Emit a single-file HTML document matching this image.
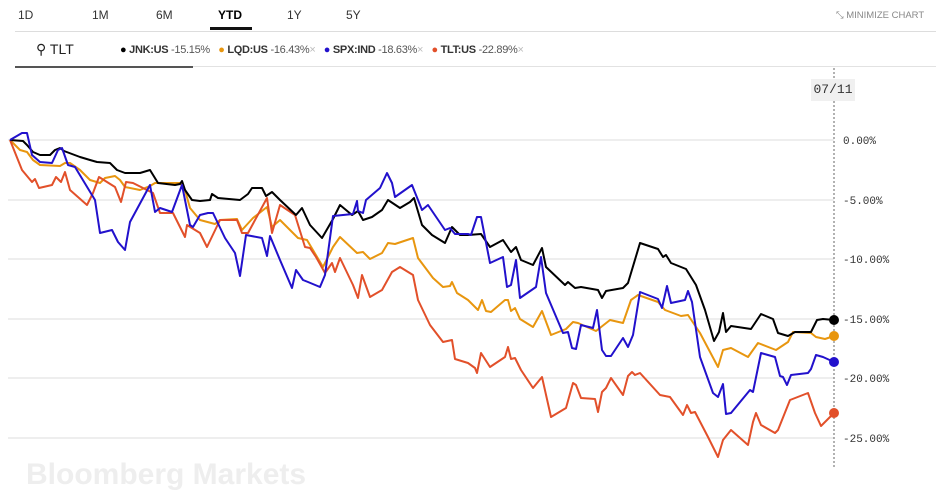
<!DOCTYPE html>
<html><head><meta charset="utf-8"><style>
html,body{margin:0;padding:0;width:936px;height:469px;overflow:hidden;background:#fff;font-family:"Liberation Sans",sans-serif;}
.t{position:absolute;font-size:12px;color:#333;}
</style></head><body>
<div class="t" style="left:18px;top:8px">1D</div>
<div class="t" style="left:92px;top:8px">1M</div>
<div class="t" style="left:156px;top:8px">6M</div>
<div class="t" style="left:218px;top:8px;font-weight:bold;color:#000">YTD</div>
<div style="position:absolute;left:210px;top:27px;width:42px;height:3px;background:#111"></div>
<div class="t" style="left:287px;top:8px">1Y</div>
<div class="t" style="left:346px;top:8px">5Y</div>
<div class="t" style="left:836px;top:10px;font-size:9.5px;color:#888">⤡ MINIMIZE CHART</div>
<div style="position:absolute;left:15px;top:31px;width:921px;height:1px;background:#ddd"></div>
<div class="t" style="left:36px;top:41px;font-size:14px;color:#222">&#9906; TLT</div>
<div style="position:absolute;left:15px;top:66px;width:921px;height:1px;background:#e2e2e2"></div>
<div style="position:absolute;left:15px;top:66px;width:178px;height:2px;background:#555"></div>
<div class="t" style="left:120px;top:44px;font-size:11px;letter-spacing:-0.3px;white-space:nowrap">
<span style="color:#000">●</span> <b>JNK:US</b> <span style="color:#555">-15.15%</span>&nbsp;&nbsp;
<span style="color:#e8960f">●</span> <b>LQD:US</b> <span style="color:#555">-16.43%</span><span style="color:#bbb">×</span>&nbsp;&nbsp;
<span style="color:#2211cc">●</span> <b>SPX:IND</b> <span style="color:#555">-18.63%</span><span style="color:#bbb">×</span>&nbsp;&nbsp;
<span style="color:#e2502a">●</span> <b>TLT:US</b> <span style="color:#555">-22.89%</span><span style="color:#bbb">×</span>
</div>
<div style="position:absolute;left:811px;top:79px;width:44px;height:22px;background:#f0f0f0;font-size:13px;line-height:22px;text-align:center;color:#333;font-family:'Liberation Mono',monospace">07/11</div>
<div style="position:absolute;left:26px;top:458px;font-size:30px;line-height:34px;font-weight:bold;color:#eee;white-space:nowrap">Bloomberg Markets</div>
<svg width="936" height="469" style="position:absolute;left:0;top:0">
<g stroke="#e3e3e3" stroke-width="1.2">
<line x1="8" y1="140" x2="834" y2="140"/><line x1="8" y1="200" x2="834" y2="200"/><line x1="8" y1="259" x2="834" y2="259"/><line x1="8" y1="319" x2="834" y2="319"/><line x1="8" y1="378" x2="834" y2="378"/><line x1="8" y1="438" x2="834" y2="438"/>
</g>
<line x1="834" y1="68" x2="834" y2="79" stroke="#666" stroke-dasharray="2,2"/>
<line x1="834" y1="101" x2="834" y2="469" stroke="#666" stroke-dasharray="2,2"/>
<g font-family="Liberation Mono,monospace" font-size="11" fill="#333">
<text x="843" y="144">0.00%</text><text x="843" y="204">-5.00%</text><text x="843" y="263">-10.00%</text><text x="843" y="323">-15.00%</text><text x="843" y="382">-20.00%</text><text x="843" y="442">-25.00%</text>
</g>
<g fill="none" stroke-width="2" stroke-linejoin="round">
<polyline stroke="#e8960f" points="10,140 20,150 27,152 33,160 40,165 60,166 65,163 70,163 80,170 90,180 100,183 105,178 115,176 120,180 125,187 140,190 150,186 155,183 180,183 185,190 190,208 200,220 215,224 220,220 237,219 242,230 253,218 267,207 272,227 280,220 298,238 307,240 323,267 333,247 340,237 357,253 363,252 370,259 382,253 388,243 395,244 413,238 418,258 433,278 443,287 450,286 452,282 457,293 468,300 478,310 482,300 486,311 491,312 505,300 508,300 511,311 515,308 520,319 533,327 542,311 551,335 566,329 573,322 578,323 596,331 610,320 623,323 631,300 638,295 658,302 665,310 681,316 688,315 700,333 718,367 723,350 731,348 748,357 758,343 776,350 788,342 793,332 811,333 816,337 825,339 834,336"/>
<polyline stroke="#e2502a" points="10,140 22,170 32,182 35,179 39,188 52,185 56,177 61,182 65,172 70,190 87,205 93,193 99,177 115,187 121,202 126,182 133,183 143,188 153,193 160,213 173,213 185,237 187,225 200,233 207,247 220,220 237,220 242,233 248,233 267,198 272,233 280,205 295,215 305,247 310,248 316,257 325,273 332,263 335,272 340,258 353,285 358,298 362,275 370,297 382,290 392,272 400,267 413,275 418,300 430,325 443,342 452,340 455,359 468,363 475,368 477,373 481,353 490,367 505,357 508,347 511,359 515,358 521,370 533,388 542,377 551,417 566,408 573,383 576,385 581,398 595,399 598,412 602,392 606,388 611,378 623,395 628,376 632,372 635,375 640,373 660,395 670,397 683,415 687,405 691,413 695,412 708,437 718,457 723,440 731,430 748,445 753,422 756,413 761,425 775,433 778,430 790,400 808,393 815,413 821,426 834,413"/>
<polyline stroke="#000" points="10,140 23,141 27,145 33,152 40,155 50,155 55,150 60,148 64,151 80,157 90,160 97,162 110,163 117,170 125,173 140,173 150,170 158,183 175,185 180,184 182,181 185,190 192,200 200,201 210,200 212,194 218,198 240,200 248,194 252,188 262,188 266,196 272,192 280,200 296,215 302,208 310,225 322,238 333,219 340,205 352,215 358,211 363,220 372,217 382,210 388,200 400,208 410,202 414,198 422,225 432,235 445,243 452,227 460,235 468,235 481,234 490,247 503,240 511,252 516,247 521,260 533,265 542,248 546,267 565,285 568,282 575,288 581,287 598,290 602,298 606,291 623,288 628,283 640,243 658,249 663,257 666,255 671,263 686,269 696,285 705,310 714,341 719,332 723,313 726,332 731,326 751,329 761,314 773,319 778,333 788,336 795,332 811,332 817,320 823,319 834,320"/>
<polyline stroke="#2211cc" points="10,140 22,133 27,133 32,155 40,162 52,163 58,150 62,148 68,165 75,167 95,200 100,233 112,230 118,242 125,250 130,222 150,185 155,212 160,208 172,212 182,185 190,225 193,227 200,215 208,213 213,213 225,238 235,253 240,276 246,235 262,238 267,256 270,236 280,260 292,288 296,270 303,280 308,282 320,287 325,275 333,216 353,214 357,201 358,211 363,213 366,200 380,188 387,173 392,183 395,197 412,185 422,210 428,205 445,230 450,228 455,234 468,234 471,235 477,217 481,217 490,263 503,257 507,287 511,285 516,260 520,298 536,287 541,257 546,293 563,333 568,332 572,348 576,349 581,325 593,328 597,310 602,350 606,356 611,356 623,338 628,347 633,335 640,292 658,299 662,308 667,286 671,303 685,300 688,291 692,302 700,357 713,393 718,397 723,384 726,414 731,413 750,390 753,392 761,353 775,357 780,376 783,377 787,385 791,375 808,373 811,369 816,355 823,357 834,362"/>
</g>
<circle cx="834" cy="320" r="5" fill="#000"/>
<circle cx="834" cy="336" r="5" fill="#e8960f"/>
<circle cx="834" cy="362" r="5" fill="#2211cc"/>
<circle cx="834" cy="413" r="5" fill="#e2502a"/>
</svg>
</body></html>
